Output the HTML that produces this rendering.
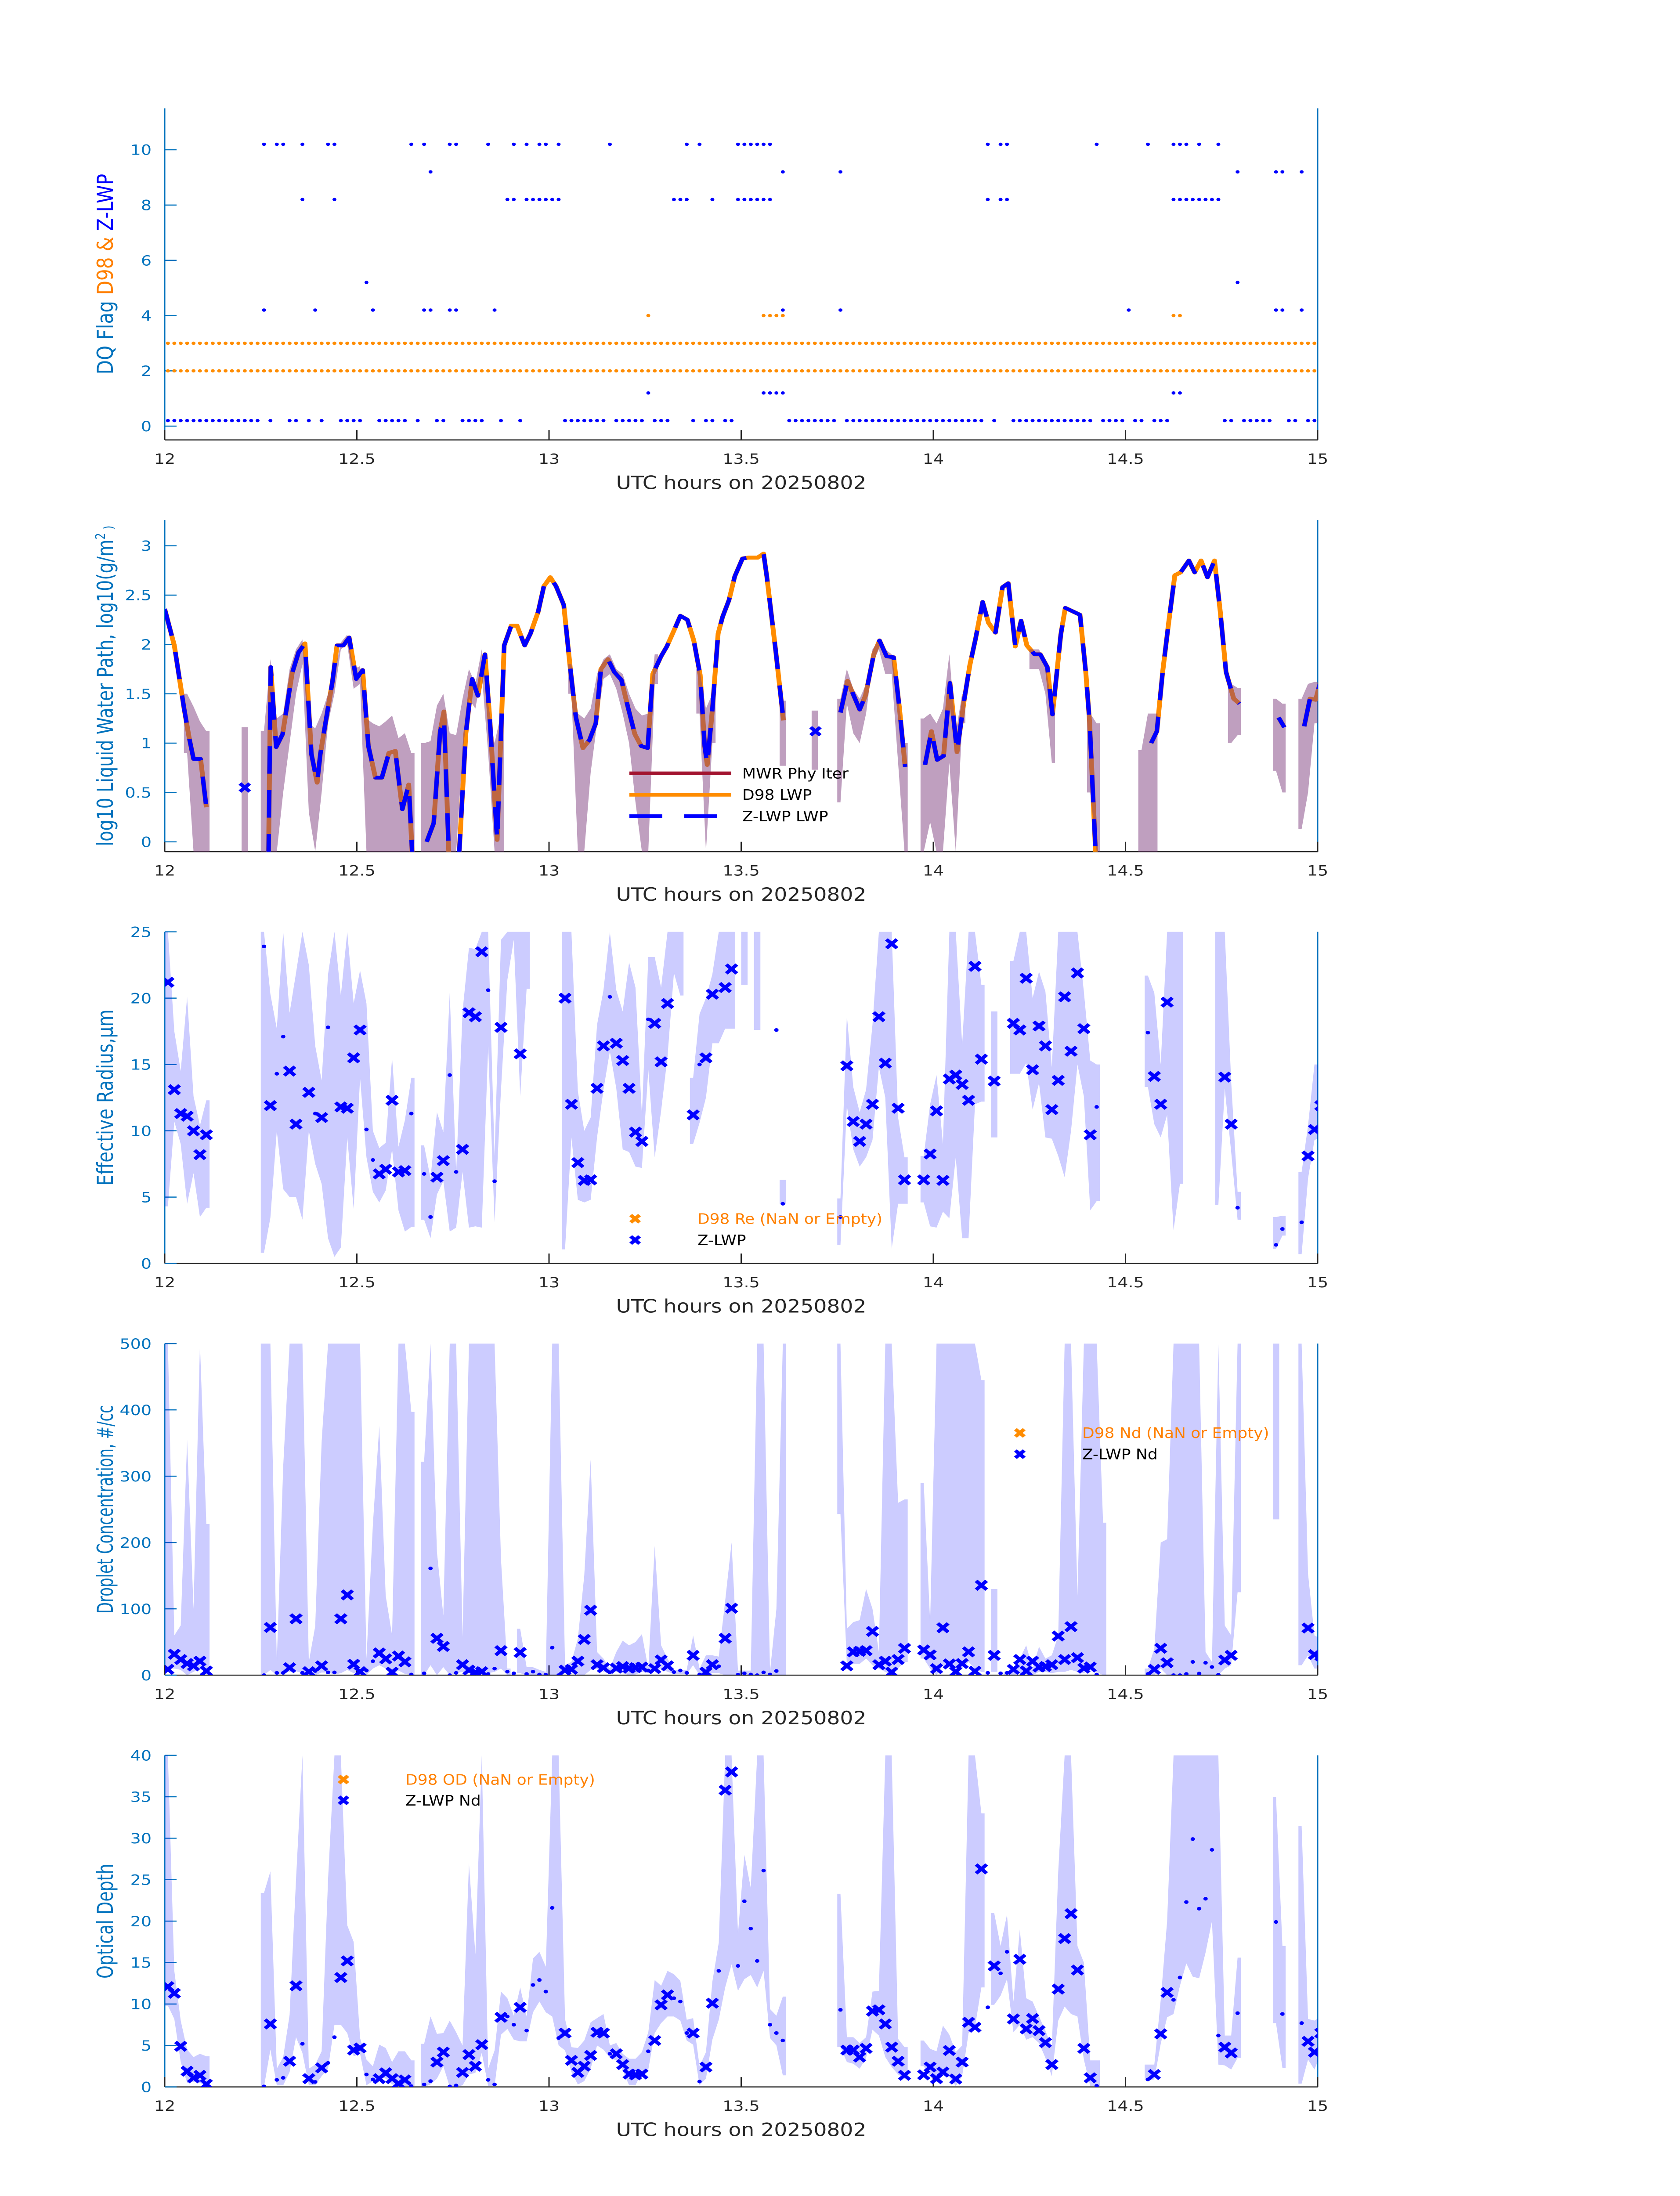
<!DOCTYPE html>
<html><head><meta charset="utf-8"><title>DQ / LWP / Re / Nd / OD</title>
<style>html,body{margin:0;padding:0;background:#fff;width:100vw;height:100vh;overflow:hidden}svg{display:block;position:fixed;left:0;top:0;width:100vw;height:100vh}</style></head>
<body>
<svg id="chart" xmlns="http://www.w3.org/2000/svg" viewBox="0 0 3825 6000" preserveAspectRatio="none">
<rect x="0" y="0" width="3825" height="6000" fill="#fff"/>
</svg>
<script>
// ---------- Panel 1: DQ flags ----------
const flagLevels = [0.2, 1.2, 4.2, 5.2, 8.2, 9.2, 10.2];
const flagMin0 = [0,1,2,3,4,5,6,7,8,9,10,11,12,13,14,16,19,20,22,24,27,28,29,30,33,34,35,36,37,39,42,43,46,47,48,49,52,55,62,63,64,65,66,67,68,70,71,72,73,74,76,77,78,82,84,85,87,88,97,98,99,100,101,102,103,104,106,107,108,109,110,111,112,113,114,115,116,117,118,119,120,121,122,123,124,125,126,127,129,132,133,134,135,136,137,138,139,140,141,142,143,144,146,147,148,149,151,152,154,155,156,165,166,168,169,170,171,172,175,176,178,179];
const flagMin1 = [75,93,94,95,96,157,158];
const flagMin4 = [15,23,32,40,41,44,45,51,96,105,150,173,174,177];
const flagMin5 = [31,167];
const flagMin8 = [21,26,53,54,56,57,58,59,60,61,79,80,81,85,89,90,91,92,93,94,128,130,131,157,158,159,160,161,162,163,164];
const flagMin9 = [41,96,105,167,173,174,177];
const flagMin10 = [15,17,18,21,25,26,38,40,44,45,50,54,56,58,59,61,69,81,83,89,90,91,92,93,94,128,130,131,145,153,157,158,159,161,164];
const d98FlagBase = [2, 3];
const d98Flag4Min = [75,93,94,95,96,157,158];

// ---------- Panel 2: LWP ----------
const lwpMin = [0,1.5,3,3.8,4.5,5.6,6.5,null,
16.2,16.55,17.4,18.4,19.9,20.9,21.9,22.9,23.8,24.3,25.5,26.2,26.9,27.9,28.8,29.9,30.9,31.8,32.9,33.9,35.0,36.0,37.1,38.1,38.7,null,
40.9,42.0,43.0,43.6,44.4,null,
45.9,47.0,48.0,48.9,50.0,50.8,51.9,53.0,54.1,55.0,56.2,57.1,58.3,59.2,60.2,61.1,62.3,63.3,64.2,65.3,66.3,67.3,68.1,69.2,70.2,71.3,72.3,73.4,74.4,75.4,76.2,77.5,78.4,79.5,80.5,81.6,82.6,83.6,84.3,84.7,85.5,86.4,87.1,88.1,89.0,90.2,91.1,92.6,93.5,94.0,95.4,96.6,null,
105.5,106.6,108.5,109.4,110.7,111.6,112.7,113.8,114.7,115.6,null,
118.7,119.7,120.6,121.6,122.6,123.7,124.8,125.7,126.6,127.7,128.6,129.7,130.8,131.7,132.8,133.7,134.6,135.8,136.7,137.8,138.6,139.9,140.6,141.6,142.9,143.8,144.4,145.4,null,
154.0,154.9,155.8,156.7,157.7,158.6,159.9,160.8,161.8,162.8,163.9,164.8,165.7,166.9,167.8,null,
173.9,174.8,null,
177.9,178.8,179.7,180.6];
const zlwpVal = [2.36,1.99,1.36,1.06,0.84,0.84,0.35,null,
-0.2,1.77,0.96,1.09,1.71,1.92,2.01,0.89,0.6,0.89,1.36,1.63,1.99,1.99,2.07,1.65,1.74,0.97,0.65,0.65,0.9,0.92,0.33,0.58,-0.2,null,
0.0,0.19,1.12,1.25,-0.2,null,
-0.2,1.09,1.65,1.48,1.9,1.2,0.02,1.99,2.19,2.19,1.99,2.11,2.33,2.59,2.68,2.59,2.4,1.77,1.26,0.95,1.03,1.2,1.75,1.85,1.72,1.64,1.37,1.09,0.97,0.95,1.70,1.88,1.98,2.14,2.29,2.25,2.04,1.69,0.97,0.78,1.34,2.11,2.28,2.45,2.69,2.87,2.88,2.88,2.92,2.69,1.93,1.23,null,
1.31,1.63,1.34,1.48,1.9,2.04,1.88,1.87,1.36,0.76,null,
0.78,1.12,0.83,0.87,1.61,0.91,1.43,1.79,2.06,2.43,2.22,2.12,2.58,2.62,1.98,2.24,1.99,1.9,1.9,1.77,1.29,2.1,2.37,2.34,2.30,1.72,1.21,-0.2,null,
1.0,1.12,1.72,2.2,2.7,2.73,2.85,2.73,2.85,2.68,2.85,2.33,1.72,1.45,1.40,null,
1.26,1.16,null,
1.17,1.45,1.44,1.67];
const d98Val = [2.36,1.99,1.36,1.06,0.84,0.84,0.35,null,
-0.2,1.77,0.96,1.09,1.71,1.92,2.01,0.89,0.6,0.89,1.36,1.63,1.99,1.99,2.07,1.65,1.74,0.97,0.65,0.65,0.9,0.92,0.33,0.58,-0.2,null,
0.0,0.19,1.12,1.32,-0.2,null,
-0.2,1.09,1.65,1.48,1.9,1.2,0.02,1.99,2.19,2.19,1.99,2.11,2.33,2.59,2.68,2.59,2.4,1.77,1.26,0.95,1.03,1.2,1.75,1.85,1.72,1.64,1.37,1.09,0.97,0.95,1.70,1.88,1.98,2.14,2.29,2.25,2.04,1.69,0.97,0.78,1.34,2.11,2.28,2.45,2.69,2.87,2.88,2.88,2.92,2.69,1.93,1.23,null,
1.31,1.63,1.34,1.48,1.9,2.04,1.88,1.87,1.36,0.76,null,
0.78,1.12,0.83,0.87,1.61,0.91,1.43,1.79,2.06,2.43,2.22,2.12,2.58,2.62,1.98,2.24,1.99,1.9,1.9,1.77,1.29,2.1,2.37,2.34,2.30,1.72,1.21,-0.2,null,
1.0,1.12,1.72,2.2,2.7,2.73,2.85,2.73,2.85,2.68,2.85,2.33,1.72,1.45,1.40,null,
1.26,1.16,null,
1.17,1.45,1.44,1.67];
const lwpMarkMin = [12.5, 101.6];
const lwpMarkVal = [0.55, 1.12];
const p2BandIdx=[3,4,5,6,12,15,16,17,18,19,20,21,22,23,24,25,26,27,28,29,30,31,32,33,34,35,36,37,38,40,41,42,43,44,45,46,47,48,49,50,51,52,63,64,65,66,67,68,69,70,71,72,73,74,75,76,83,84,85,96,101,105,106,107,108,109,110,111,112,113,114,115,118,119,120,121,122,123,124,135,136,137,138,144,145,152,153,154,166,167,173,174,177,178,179];
const p2BandLo=[0.9,-0.1,-0.1,-0.1,-0.1,-0.1,-0.1,-0.1,0.5,1.0,1.5,1.8,0.3,-0.1,0.5,1.2,1.5,1.95,2.0,1.55,1.6,-0.1,-0.1,-0.1,-0.1,-0.1,-0.1,-0.1,-0.1,-0.1,-0.1,-0.1,-0.1,-0.1,-0.1,0.9,1.45,1.35,1.7,0.9,-0.1,-0.1,1.5,-0.1,-0.1,0.7,1.2,1.65,1.7,1.55,1.3,1.0,0.4,-0.1,-0.1,1.6,1.3,-0.1,1.0,0.77,0.73,0.4,1.4,1.1,1.0,1.3,1.8,1.95,1.7,1.7,0.8,-0.1,-0.1,0.2,-0.1,-0.1,0.8,-0.1,1.2,1.75,1.75,1.5,0.8,0.5,-0.1,-0.1,-0.1,-0.1,1.0,1.08,0.72,0.5,0.13,0.5,1.2];
const p2BandHi=[1.5,1.37,1.22,1.12,1.16,1.12,1.85,1.25,1.3,1.75,1.95,2.05,1.2,1.15,1.3,1.5,1.7,2.02,2.1,1.75,1.78,1.25,1.2,1.17,1.22,1.28,1.05,1.1,0.9,1.0,1.02,1.38,1.5,1.1,1.08,1.45,1.75,1.6,1.95,1.4,1.0,1.3,1.8,1.3,1.25,1.35,1.7,1.85,1.9,1.75,1.7,1.5,1.35,1.28,1.3,1.9,1.75,1.35,1.5,1.43,1.33,1.45,1.75,1.55,1.45,1.6,1.95,2.05,1.95,1.9,1.45,1.0,1.25,1.3,1.2,1.35,1.9,1.1,1.5,1.95,1.95,1.8,1.4,1.3,1.2,0.93,1.3,1.3,1.6,1.56,1.45,1.4,1.45,1.6,1.62];

// ---------- Panels 3-5 shared marker minutes ----------
const zIdx = [0,1,2,3,4,5,6,16,19,20,22,24,27,28,29,30,33,34,35,36,37,42,43,46,47,48,49,52,55,62,63,64,65,66,67,68,70,71,72,73,74,76,77,78,82,84,85,87,88,106,107,108,109,110,111,112,113,114,115,118,119,120,121,122,123,124,125,126,127,129,132,133,134,135,136,137,138,139,140,141,142,143,144,154,155,156,165,166,178,179,180];

// Panel 3: Re
const reVal = [21.2,13.1,11.3,11.1,10.0,8.2,9.7,11.9,14.5,10.5,12.9,11.0,11.8,11.7,15.5,17.6,6.75,7.1,12.3,6.9,7.0,6.5,7.75,8.6,18.9,18.6,23.5,17.8,15.8,20.0,12.0,7.6,6.26,6.3,13.2,16.4,16.6,15.3,13.2,9.9,9.2,18.1,15.2,19.6,11.2,15.5,20.3,20.8,22.2,14.9,10.7,9.2,10.5,12.0,18.6,15.1,24.1,11.7,6.3,6.3,8.25,11.5,6.26,13.9,14.2,13.5,12.3,22.4,15.4,13.75,18.1,17.6,21.5,14.6,17.9,16.4,11.6,13.8,20.1,16.0,21.9,17.7,9.7,14.1,12.0,19.7,14.05,10.5,8.1,10.1,11.9];
const reDotIdx = [15,17,18,23,25,31,32,38,40,41,44,45,50,51,69,75,83,95,96,105,145,153,167,173,174,177];
const reDotVal = [23.9,14.3,17.1,11.3,17.8,10.1,7.8,11.3,6.75,3.5,14.2,6.9,20.6,6.2,20.1,18.4,15.0,17.6,4.5,3.5,11.8,17.4,4.2,1.4,2.6,3.1];
const p3BandIdx=[0,1,2,3,4,5,6,15,16,17,18,19,20,21,22,23,24,25,26,27,28,29,30,31,32,33,34,35,36,37,38,40,41,42,43,44,45,46,47,48,49,50,51,52,53,54,55,56,62,63,64,65,66,67,68,69,70,71,72,73,74,75,76,77,78,79,80,82,83,84,85,86,87,88,90,92,96,105,106,107,108,109,110,111,112,113,114,115,118,119,120,121,122,123,124,125,126,127,129,132,133,134,135,136,137,138,139,140,141,142,143,144,145,153,154,155,156,157,158,164,165,166,167,173,174,177,178,179,180];
const p3BandLo=[4.3,10.7,9,4.5,6.8,3.5,4.2,0.8,3.45,10,5.6,5.0,5.0,3.3,10,7.5,6.0,1.9,0.5,1.2,9.5,4.1,14.0,8.0,5.4,4.6,5.5,8.6,4.0,2.4,2.75,3.3,1.9,5.2,6.2,2.4,2.7,6.9,2.7,2.8,2.7,16.4,3.1,13.1,21.4,24.4,12.6,20.7,1.06,9.5,4.8,4.6,4.8,9.5,13.1,16,13.2,8.6,8.4,7.3,7.2,14.6,8.0,11.5,15.6,21.9,20.2,9.0,10.6,12.5,16.6,16.6,17.7,17.7,21,17.6,4.5,1.4,11.9,8.6,7.3,8.0,9.3,14.8,12.5,1.1,4.5,4.5,4.6,2.8,2.7,3.9,3.4,8.0,1.9,1.9,12,12.2,9.5,14.3,14.3,15.1,11.6,13.6,9.5,9.4,8.1,6.5,10,15.0,12.6,4.0,4.7,13.3,10.5,9.5,11.2,2.5,6,4.4,13.2,8.4,3.3,1.1,2.1,0.7,6.4,9.3,9.5];
const p3BandHi=[25,17.5,14.5,20.1,12.6,10.4,12.3,25,20.3,17.7,25,18.9,21.9,25,22.5,16.4,13.8,21.8,25,20.2,25,19.6,22.1,19.6,10.0,8.7,9.1,15.5,8.8,10.8,14.0,8.9,6.4,11.4,9.9,20.4,6.8,19.0,23.8,23.7,25,25,8.1,24.4,25,25,25,25,25,25,13.0,10.0,11.0,18,20.6,25,20.6,19.0,22.7,20.8,11.2,23.1,23.1,20.8,25,25,25,14.0,18.8,20.0,21.8,25,25,25,25,25,6.3,4.9,18.7,13.3,11.4,13.1,18.0,25,25,25,11.0,8.0,8.1,12.0,14.2,9.0,25,25,16.5,25,25,21.0,19.0,22.8,25,25,20,22.0,20.5,14.8,25,25,25,25,20.5,15.3,15.0,21.7,20.4,15.0,25,25,25,25,25,13.7,5.4,3.5,3.6,6.9,10.4,15.0,15.0];

// Panel 4: Nd
const ndVal = [8.8,31.7,23.6,17.6,14.1,21.1,6.3,72,11.3,85,5.3,14.1,85,121,16.5,5.3,33.5,24.6,4.6,28.9,20.1,55.6,43.3,15.8,7.7,4.2,5.3,37,34.2,7.7,8.8,21.1,53.9,97.9,15.8,11.3,10.6,13.0,10.6,11.3,12.3,9.9,22.9,14.1,29.9,4.6,15.8,55.6,101,14.1,35.2,36,37,66,15.8,21.1,4.6,23.6,40.5,38,30.6,9.9,71.5,16.9,5.3,17.6,35.2,6,135.6,29.9,8.8,23.6,6.3,21.1,12.3,13,15.8,59,23.6,73.2,26.4,10.6,12.3,8.8,40.5,18.7,22.9,29.9,71.1,31,28.9];
const ndDotIdx = [15,17,18,21,23,25,26,31,32,38,40,41,44,45,50,51,53,54,56,57,58,59,60,61,69,75,79,80,81,83,86,89,90,91,92,93,94,95,128,130,131,145,153,157,158,159,160,161,162,163,164];
const ndDotVal = [0,3.5,3.5,3.5,6.3,4.2,4.2,7,21,1,2.8,161,0,3.5,1.8,9.9,5.3,2.8,1.8,5.3,1,0.7,41.5,0,4.2,7,4.6,7,3.5,1,13.4,0.7,2.8,1,0,4.2,1,6.3,3.5,2.8,3.5,1,1.8,0,0,1.8,20,2.5,18.7,12.3,0.7];
const p4BandIdx=[0,1,2,3,4,5,6,15,16,17,18,19,20,21,22,23,24,25,26,27,28,29,30,31,32,33,34,35,36,37,38,40,41,42,43,44,45,46,47,48,49,50,51,52,53,55,56,57,58,59,60,61,62,63,64,65,66,67,68,69,70,71,72,73,74,75,76,77,78,79,80,81,82,83,84,85,86,87,88,89,90,91,92,93,94,95,96,105,106,107,108,109,110,111,112,113,114,115,118,119,120,121,122,123,124,125,126,127,129,131,132,133,134,135,136,137,138,139,140,141,142,143,144,145,146,153,154,155,156,157,158,159,160,161,162,163,164,165,166,167,173,177,178,179,180];
const p4BandLo=[9,10,8,0,5,10,3,0,8,0,3,5,6,3,0,0,4,4,1,3,8,3,2,0,10,15,10,0,7,2,0,0,15,0,12,0,3,5,3,2,2,3,5,10,0,3,0,0,0,0,0,0,3,5,0,0,8,10,5,3,5,3,0,1,5,3,8,10,5,2,2,2,15,0,0,3,3,0,0,0,0,0,1,1,0,0,0,243,15,17,17,25,15,10,5,0,10,20,25,10,0,15,10,0,10,20,10,5,5,0,0,3,5,0,5,5,3,5,5,8,5,3,10,5,0,0,0,10,0,0,0,0,0,0,0,0,0,10,15,125,235,15,30,10,10];
const p4BandHi=[500,60,75,355,100,500,228,500,500,20,315,500,500,500,20,74,352,500,500,500,500,500,500,25,227,376,120,60,500,500,397,322,500,186,90,500,500,58,500,500,500,500,500,175,10,70,12,12,8,5,500,500,15,20,55,150,325,35,25,10,35,52,45,50,62,10,195,45,25,8,8,8,60,10,30,30,28,112,200,7,7,7,500,500,5,100,500,500,70,80,83,130,100,35,500,500,260,265,290,80,500,500,500,500,500,500,500,445,130,5,10,25,45,10,43,25,30,60,500,500,120,500,500,500,230,10,40,200,205,500,500,500,500,500,35,20,500,75,60,500,500,500,153,60,55];

// Panel 5: OD
const odVal = [12.1,11.3,4.9,1.9,1.1,1.4,0.34,7.6,3.1,12.2,1.0,2.3,13.2,15.2,4.45,4.7,1.0,1.7,1.0,0.42,0.85,3.0,4.2,1.75,3.9,2.5,5.1,8.4,9.6,6.5,3.2,1.75,2.5,3.8,6.6,6.5,4.0,2.7,1.55,1.46,1.55,5.6,9.9,11.1,6.5,2.4,10.1,35.8,38.0,4.45,4.45,3.6,4.65,9.15,9.3,7.6,4.8,3.1,1.4,1.46,2.4,1.0,1.8,4.4,0.96,3.0,7.8,7.2,26.3,14.6,8.2,15.4,7.0,8.25,6.8,5.35,2.7,11.8,17.9,20.9,14.1,4.65,1.1,1.5,6.4,11.4,4.8,4.1,5.5,4.2,6.5];
const odDotIdx = [15,17,18,21,23,25,26,31,32,38,40,41,44,45,50,51,53,54,56,57,58,59,60,61,69,75,79,80,81,83,86,89,90,91,92,93,94,95,96,105,128,130,131,145,153,157,158,159,160,161,162,163,164,167,173,174,177];
const odDotVal = [0.06,0.85,1.1,5.2,0.6,2.9,6.0,1.5,0.9,0.1,0.3,0.7,0.06,0.17,0.85,0.3,8.5,7.5,6.8,12.3,12.9,11.5,21.6,5.9,4.0,4.3,10.7,10.3,6.5,0.65,14.0,14.6,22.4,19.1,15.2,26.1,7.5,6.5,5.6,9.3,9.6,13.7,16.3,0.14,0.9,10.5,13.2,22.3,29.9,21.5,22.7,28.6,6.2,8.9,19.9,8.8,7.7];
const p5BandIdx=[0,1,2,3,4,5,6,15,16,17,18,19,20,21,22,23,24,25,26,27,28,29,30,31,32,33,34,35,36,37,38,40,41,42,43,44,45,46,47,48,49,50,51,52,53,54,55,56,57,58,59,60,61,62,63,64,65,66,67,68,69,70,71,72,73,74,75,76,77,78,79,80,81,82,83,84,85,86,87,88,89,90,91,92,93,94,95,96,105,106,107,108,109,110,111,112,113,114,115,118,119,120,121,122,123,124,125,126,127,129,130,131,132,133,134,135,136,137,138,139,140,141,142,143,144,145,153,154,155,156,157,158,159,160,161,162,163,164,165,166,167,173,174,177,178,179,180];
const p5BandLo=[9.8,8.2,3,0.5,0.6,0.5,0.1,0,4.5,0.2,0.2,1.8,6,4.1,0.2,0.2,1.3,2.2,7.5,7.5,6.5,3.7,4.0,0.2,0.7,1.2,1.0,0.3,0.2,0.1,0.1,0,0.3,1.0,2.5,0,0,0.2,1.5,1.7,4.1,0.1,0.1,6.3,7.0,5.7,5.5,5.5,9.0,10.3,9.0,8.5,5.0,4.4,1.8,0.3,0.7,2.2,5.0,4.5,3.5,3.2,2.0,0.2,0.2,1.8,2.1,6.5,7.7,8.5,8.5,8.0,5.6,5.1,0.2,1.0,5.7,8.1,12.0,14.8,11.6,13,13.5,12,14,5.9,5.0,1.4,4.8,3.0,2.8,2.2,3.5,6.9,6.2,3.6,2.4,1.5,1.0,2.5,1.2,0.6,1.4,1.2,0.1,1.3,6.5,7.2,12.0,9.9,11,13,6.6,7.5,5.7,6.0,5.3,3.5,1.3,8,9.7,8.8,8.5,3.3,0.1,0.1,0.8,0.9,5.2,8.4,8.8,12.2,14.9,13.3,13.1,16.2,20,2.7,2.6,2.1,3.5,7.7,2.3,0.4,3.3,2.1,4.0];
const p5BandHi=[40,14,8,4.5,3.6,4,3.7,23.4,26,2.2,3.6,8.7,25,40,2.2,2.7,4.3,25,40,40,19.5,17.5,5.9,3.3,2.5,5.1,4.7,3.0,4.3,4.3,3.2,5.2,8.5,6.4,6.5,8,6.6,5,27,16,40,2.2,4.4,11.5,10.7,8.6,12.0,8.5,15.5,16.3,14.5,40,40,8.2,4.8,4.7,5.6,7.8,8.3,8.8,5.0,5.3,4.0,3.4,3.4,4.2,6.6,12.9,12.2,14.0,13.6,12.8,8.1,8.3,2.5,4.2,12.7,17.4,40,40,18.5,28,24,40,40,9.4,8.6,10.9,23.3,6.0,6.0,5.3,6.0,11.5,11.6,40,40,5.8,4.8,5.6,4.6,4.3,7.4,6.3,4.2,5.0,40,40,33,21,17,20.8,10.3,19,10.7,10.3,8.5,6.8,4.8,26,40,40,17,15,3.2,3.2,2.7,2.7,10.5,20,40,40,40,40,40,40,40,40,6.2,6.2,15.6,35,17,31.5,8.2,8.0,8.5];

// ---------- Axis tick labels ----------
const xTickVals = [12, 12.5, 13, 13.5, 14, 14.5, 15];
const xTickLabels = ['12', '12.5', '13', '13.5', '14', '14.5', '15'];
const yTicks1 = [0, 2, 4, 6, 8, 10];
const yTicks2 = [0, 0.5, 1, 1.5, 2, 2.5, 3];
const yTicks3 = [0, 5, 10, 15, 20, 25];
const yTicks4 = [0, 100, 200, 300, 400, 500];
const yTicks5 = [0, 5, 10, 15, 20, 25, 30, 35, 40];

// ---------- layout ----------
const NS = 'http://www.w3.org/2000/svg';
const svg = document.getElementById('chart');
const L = 375, R = 3000, H = 906;
const panels = [
  {top: 296, ymin: -0.5, ymax: 11.5, ticks: yTicks1},
  {top: 1421, ymin: -0.1, ymax: 3.26, ticks: yTicks2},
  {top: 2546, ymin: 0, ymax: 25, ticks: yTicks3},
  {top: 3671, ymin: 0, ymax: 500, ticks: yTicks4},
  {top: 4796, ymin: 0, ymax: 40, ticks: yTicks5}
];
const AXBLUE = '#0072BD', DARK = '#262626', ORANGE = '#FF8C00', BLUE = '#0000FF';
function xh(h) { return L + (h - 12) / 3 * (R - L); }
function xMin(m) { return xh(12 + m / 60); }
function xIdx(i) { return xh(12 + (i + 0.5) / 60); }
function yv(p, v) { return p.top + (p.ymax - v) / (p.ymax - p.ymin) * H; }
function mk(tag, attrs, parent) {
  const e = document.createElementNS(NS, tag);
  for (const k in attrs) e.setAttribute(k, attrs[k]);
  (parent || svg).appendChild(e);
  return e;
}
const defs = mk('defs', {});
panels.forEach((p, k) => {
  const cp = mk('clipPath', {id: 'clip' + k}, defs);
  mk('rect', {x: L, y: p.top, width: R - L, height: H}, cp);
});

function drawAxes(p, k) {
  const g = mk('g', {});
  
  
  const bottom = p.top + H;
  const bl = mk('line', {x1: L, y1: bottom, x2: R, y2: bottom, stroke: DARK, 'stroke-width': 3}, g);
  
  
  const ll = mk('line', {x1: L, y1: p.top, x2: L, y2: bottom, stroke: AXBLUE, 'stroke-width': 3}, g);
  
  
  const rl = mk('line', {x1: R, y1: p.top, x2: R, y2: bottom, stroke: AXBLUE, 'stroke-width': 3}, g);
  
  
  xTickVals.forEach((v, i) => {
    const x = xh(v);
    const t = mk('line', {x1: x, y1: bottom, x2: x, y2: bottom - 27, stroke: DARK, 'stroke-width': 3}, g);
    
    
    const tx = mk('text', {x: x, y: bottom + 65, 'text-anchor': 'middle', 'font-size': 38, fill: DARK, 'font-family': 'DejaVu Sans, Liberation Sans, sans-serif'}, g);
    tx.textContent = xTickLabels[i];
    
    
  });
  p.ticks.forEach(v => {
    const y = yv(p, v);
    const t = mk('line', {x1: L, y1: y, x2: L + 27, y2: y, stroke: AXBLUE, 'stroke-width': 3}, g);
    
    
    const tx = mk('text', {x: 345, y: y + 14, 'text-anchor': 'end', 'font-size': 38, fill: AXBLUE, 'font-family': 'DejaVu Sans, Liberation Sans, sans-serif'}, g);
    tx.textContent = String(v);
    
    
  });
  const xl = mk('text', {x: (L + R) / 2, y: bottom + 134, 'text-anchor': 'middle', 'font-size': 50, fill: DARK, 'font-family': 'DejaVu Sans Condensed, DejaVu Sans, Liberation Sans, sans-serif', textLength: 570, lengthAdjust: 'spacingAndGlyphs'}, g);
  xl.textContent = 'UTC hours on 20250802';
  
  
}
panels.forEach(drawAxes);

function yTitle(p, parts, len) {
  const cy = p.top + H / 2;
  const t = mk('text', {transform: 'translate(257,' + cy + ') rotate(-90)', 'text-anchor': 'middle', 'font-size': 50, 'font-family': 'DejaVu Sans, Liberation Sans, sans-serif', textLength: len, lengthAdjust: 'spacingAndGlyphs'});
  
  
  parts.forEach(pt => {
    const s = mk('tspan', {fill: pt[1]}, t);
    if (pt[2]) { s.setAttribute('font-size', 30); s.setAttribute('dy', pt[2]); }
    s.textContent = pt[0];
  });
  return t;
}
yTitle(panels[0], [['DQ Flag  ', AXBLUE], ['D98 &  ', '#FF8000'], ['Z-LWP', BLUE]], 548);
yTitle(panels[1], [['log10 Liquid Water Path, log10(g/m', AXBLUE], ['2', AXBLUE, -18], [' )', AXBLUE, 18]], 876);
yTitle(panels[2], [['Effective Radius,\u03BCm', AXBLUE]], 482);
yTitle(panels[3], [['Droplet Concentration, #/cc', AXBLUE]], 570);
yTitle(panels[4], [['Optical Depth', AXBLUE]], 314);

function xMarker(x, y, color, parent, size) {
  const s = size || 12;
  const e = mk('path', {d: 'M' + (x - s) + ',' + (y - s) + 'L' + (x + s) + ',' + (y + s) + 'M' + (x - s) + ',' + (y + s) + 'L' + (x + s) + ',' + (y - s), stroke: color, 'stroke-width': 9, fill: 'none'}, parent);
  return e;
}

// ---------- Panel 1 ----------
(function () {
  const p = panels[0];
  const g = mk('g', {'clip-path': 'url(#clip0)'});
  
  
  const og = mk('g', {fill: ORANGE}, g);
  
  
  for (let i = 0; i <= 180; i++) {
    d98FlagBase.forEach(v => {
      const c = mk('circle', {cx: xIdx(i), cy: yv(p, v), r: 4.5}, og);
      
      
    });
  }
  d98Flag4Min.forEach(i => {
    const c = mk('circle', {cx: xIdx(i), cy: yv(p, 4), r: 4.5}, og);
    
    
  });
  const bg = mk('g', {fill: BLUE}, g);
  
  
  const lists = [flagMin0, flagMin1, flagMin4, flagMin5, flagMin8, flagMin9, flagMin10];
  lists.forEach((lst, li) => {
    lst.forEach(i => {
      const c = mk('circle', {cx: xIdx(i), cy: yv(p, flagLevels[li]), r: 4.5}, bg);
      
      
    });
  });
})();

// ---------- band helper (interpolated between minute centres) ----------
function band(p, k, idx, lo, hi, fill, opacity, name) {
  const g = mk('g', {'clip-path': 'url(#clip' + k + ')'});
  
  
  let run = [];
  const flush = () => {
    if (!run.length) return;
    const first = run[0], last = run[run.length - 1];
    let d = 'M' + xMin(idx[first]) + ',' + yv(p, hi[first]);
    run.forEach(j => { d += 'L' + xIdx(idx[j]) + ',' + yv(p, hi[j]); });
    d += 'L' + xMin(idx[last] + 1) + ',' + yv(p, hi[last]);
    d += 'L' + xMin(idx[last] + 1) + ',' + yv(p, lo[last]);
    for (let q = run.length - 1; q >= 0; q--) {
      const j = run[q];
      d += 'L' + xIdx(idx[j]) + ',' + yv(p, lo[j]);
    }
    d += 'L' + xMin(idx[first]) + ',' + yv(p, lo[first]) + 'Z';
    const e = mk('path', {d: d, fill: fill, 'fill-opacity': opacity, stroke: 'none'}, g);
    
    
    run = [];
  };
  for (let j = 0; j < idx.length; j++) {
    if (run.length && idx[j] !== idx[run[run.length - 1]] + 1) flush();
    run.push(j);
  }
  flush();
}

// ---------- Panel 2 ----------
(function () {
  const p = panels[1];
  function pathFrom(vals) {
    let d = '', pen = false;
    for (let i = 0; i < lwpMin.length; i++) {
      if (lwpMin[i] === null || vals[i] === null) { pen = false; continue; }
      d += (pen ? 'L' : 'M') + xMin(lwpMin[i]) + ',' + yv(p, vals[i]);
      pen = true;
    }
    return d;
  }
  const g = mk('g', {'clip-path': 'url(#clip1)'});
  
  
  const o = mk('path', {d: pathFrom(d98Val), stroke: ORANGE, 'stroke-width': 11, fill: 'none', 'stroke-linejoin': 'round'}, g);
  
  
  band(p, 1, p2BandIdx, p2BandLo, p2BandHi, '#804080', 0.5, 'lwp-uncertainty-band');
  const g2 = mk('g', {'clip-path': 'url(#clip1)'});
  
  
  const b = mk('path', {d: pathFrom(zlwpVal), stroke: BLUE, 'stroke-width': 10, fill: 'none', 'stroke-dasharray': '75 45', 'stroke-linejoin': 'round'}, g2);
  
  
  lwpMarkMin.forEach((m, i) => {
    const e = xMarker(xMin(m), yv(p, lwpMarkVal[i]), BLUE, g2, 11);
    
    
  });
  const lg = mk('g', {});
  
  
  const rows = [['MWR Phy Iter', '#A2142F', null], ['D98 LWP', ORANGE, null], ['Z-LWP LWP', BLUE, '75 50']];
  rows.forEach((r, i) => {
    const y = 2113 + i * 58.5;
    const ln = mk('line', {x1: 1433, y1: y, x2: 1665, y2: y, stroke: r[1], 'stroke-width': 10}, lg);
    if (r[2]) ln.setAttribute('stroke-dasharray', r[2]);
    
    
    const t = mk('text', {x: 1690, y: y + 14, 'font-size': 40, fill: '#000', 'font-family': 'DejaVu Sans Condensed, DejaVu Sans, Liberation Sans, sans-serif'}, lg);
    t.textContent = r[0];
    
    
  });
})();

// ---------- Panels 3-5 ----------
function scatterPanel(k, vals, dotIdx, dotVal, bIdx, bLo, bHi, name) {
  const p = panels[k];
  band(p, k, bIdx, bLo, bHi, '#0000FF', 0.2, name + '-uncertainty-band');
  const g = mk('g', {'clip-path': 'url(#clip' + k + ')'});
  
  
  zIdx.forEach((i, j) => {
    const e = xMarker(xIdx(i), yv(p, vals[j]), BLUE, g, 12);
    
    
  });
  dotIdx.forEach((i, j) => {
    const c = mk('circle', {cx: xIdx(i), cy: yv(p, dotVal[j]), r: 5, fill: BLUE}, g);
    
    
  });
}
scatterPanel(2, reVal, reDotIdx, reDotVal, p3BandIdx, p3BandLo, p3BandHi, 'effective-radius');
scatterPanel(3, ndVal, ndDotIdx, ndDotVal, p4BandIdx, p4BandLo, p4BandHi, 'droplet-concentration');
scatterPanel(4, odVal, odDotIdx, odDotVal, p5BandIdx, p5BandLo, p5BandHi, 'optical-depth');

function scatterLegend(mx, y1, y2, tx, label1, label2, name) {
  const g = mk('g', {});
  
  
  const a = xMarker(mx, y1, ORANGE, g, 10);
  
  
  const b = xMarker(mx, y2, BLUE, g, 10);
  
  
  const t1 = mk('text', {x: tx, y: y1 + 14, 'font-size': 40, fill: '#FF8000', 'font-family': 'DejaVu Sans Condensed, DejaVu Sans, Liberation Sans, sans-serif'}, g);
  t1.textContent = label1;
  
  
  const t2 = mk('text', {x: tx, y: y2 + 14, 'font-size': 40, fill: '#000', 'font-family': 'DejaVu Sans Condensed, DejaVu Sans, Liberation Sans, sans-serif'}, g);
  t2.textContent = label2;
  
  
}
scatterLegend(1446, 3330, 3388, 1588, 'D98 Re (NaN or Empty)', 'Z-LWP', 're-legend');
scatterLegend(2322, 3915, 3973, 2464, 'D98 Nd (NaN or Empty)', 'Z-LWP Nd', 'nd-legend');
scatterLegend(782, 4862, 4919, 923, 'D98 OD (NaN or Empty)', 'Z-LWP Nd', 'od-legend');
</script>
</body></html>
